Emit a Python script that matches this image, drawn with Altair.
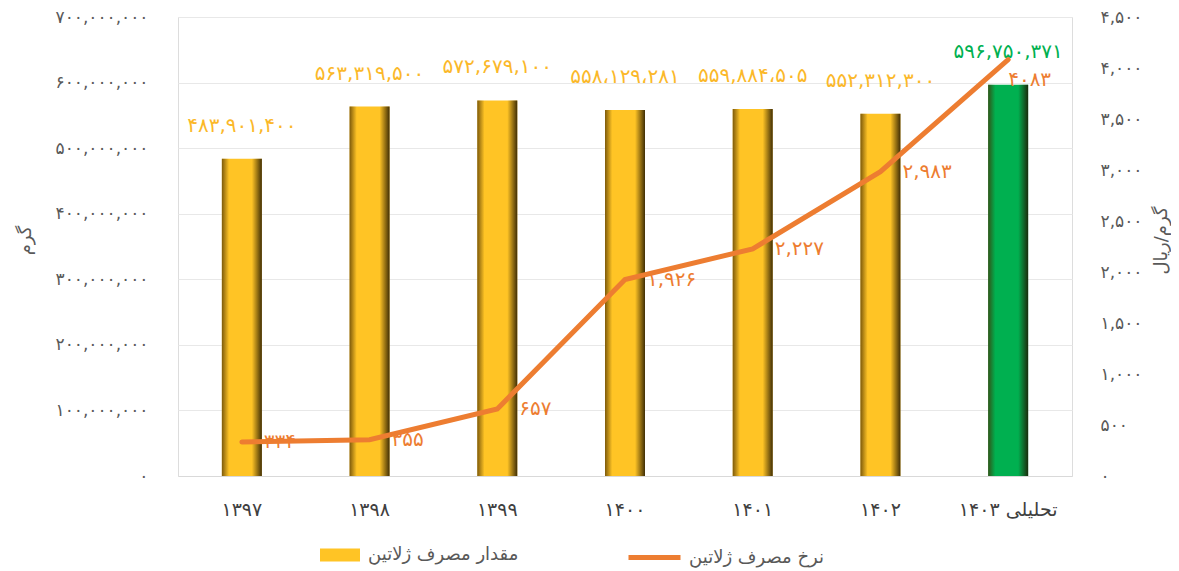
import altair as alt
import pandas as pd

years = ["۱۳۹۷", "۱۳۹۸", "۱۳۹۹", "۱۴۰۰", "۱۴۰۱", "۱۴۰۲", "تحلیلی ۱۴۰۳"]
amounts = [483901400, 563319500, 572679100, 558129281, 559884505, 552312300, 596750371]
amount_labels = ["۴۸۳,۹۰۱,۴۰۰", "۵۶۳,۳۱۹,۵۰۰", "۵۷۲,۶۷۹,۱۰۰", "۵۵۸،۱۲۹،۲۸۱",
                 "۵۵۹,۸۸۴،۵۰۵", "۵۵۲,۳۱۲,۳۰۰", "۵۹۶,۷۵۰,۳۷۱"]
kinds = ["actual", "actual", "actual", "actual", "actual", "actual", "forecast"]
rates = [334, 355, 657, 1926, 2227, 2983, 4083]
rate_labels = ["۳۳۴", "۳۵۵", "۶۵۷", "۱,۹۲۶", "۲,۲۲۷", "۲,۹۸۳", "۴۰۸۳"]

bar_name = "مقدار مصرف ژلاتین"
line_name = "نرخ مصرف ژلاتین"

df = pd.DataFrame({
    "year": years, "amount": amounts, "amount_label": amount_labels,
    "kind": kinds, "rate": rates, "rate_label": rate_labels,
    "bar_series": [bar_name] * 7, "line_series": [line_name] * 7,
})

FONT = "DejaVu Sans"
GOLD = "#FFC425"
GREEN = "#00B050"
ORANGE = "#ED7D31"
GRAY = "#595959"


def fa_digits(expr):
    for i, d in enumerate("۰۱۲۳۴۵۶۷۸۹"):
        expr = f"replace({expr}, regexp('{i}', 'g'), '{d}')"
    return expr


x_enc = alt.X("year:N", sort=years, title=None,
              scale=alt.Scale(paddingInner=0, paddingOuter=0),
              axis=alt.Axis(labelAngle=0, labelFontSize=19, labelColor="#404040",
                            labelPadding=24, ticks=False, domain=True, domainColor="#d9d9d9",
                            grid=False, labelFont=FONT))

y_left = alt.Y("amount:Q", title="گرم",
               scale=alt.Scale(domain=[0, 700000000]),
               axis=alt.Axis(values=list(range(0, 700000001, 100000000)), format=",d",
                             labelExpr=fa_digits("datum.label"), labelFontSize=17,
                             labelColor=GRAY, labelPadding=30, ticks=False, domain=False,
                             gridColor="#e8e8e8", titleFontSize=18, titleColor=GRAY,
                             titleFontWeight="normal", titleX=-144, titleY=223,
                             titleAngle=270, labelFont=FONT, titleFont=FONT))

base = alt.Chart(df)

bars = base.mark_bar(size=40).encode(
    x=x_enc,
    y=y_left,
    fill=alt.condition(
        "datum.kind == 'forecast'", alt.value(GREEN),
        alt.Fill("bar_series:N",
                 scale=alt.Scale(domain=[bar_name], range=[GOLD]),
                 legend=alt.Legend(title=None, orient="none", legendX=142, legendY=518,
                                   symbolType="M-1,-0.33H1V0.33H-1Z", symbolSize=1600,
                                   symbolStrokeWidth=0, labelFontSize=18, labelColor=GRAY,
                                   labelFont=FONT, labelOffset=8))),
)

shade = base.mark_bar(size=40, fill=alt.LinearGradient(
    gradient="linear", x1=0, x2=1, y1=0, y2=0,
    stops=[alt.GradientStop(color="rgba(70,45,0,0.7)", offset=0),
           alt.GradientStop(color="rgba(70,45,0,0)", offset=0.18),
           alt.GradientStop(color="rgba(40,25,0,0)", offset=0.75),
           alt.GradientStop(color="rgba(30,20,0,0.85)", offset=1)])).encode(
    x=alt.X("year:N", sort=years), y=alt.Y("amount:Q"))

bar_text = base.mark_text(dy=-33, fontSize=20, font=FONT, baseline="middle").encode(
    x=alt.X("year:N", sort=years), y=alt.Y("amount:Q"),
    text="amount_label:N",
    color=alt.condition("datum.kind == 'forecast'", alt.value(GREEN), alt.value("#FBB829")),
)

bar_layer = alt.layer(bars, shade, bar_text)

y_right = alt.Y("rate:Q", title="گرم/ریال",
                scale=alt.Scale(domain=[0, 4500]),
                axis=alt.Axis(orient="right", values=list(range(0, 4501, 500)), format=",d",
                              labelExpr=fa_digits("datum.label"), labelFontSize=17,
                              labelColor=GRAY, labelPadding=28, ticks=False, domain=False,
                              grid=False, titleFontSize=18, titleColor=GRAY,
                              titleFontWeight="normal", titleAngle=270, titleX=98, titleY=223,
                              labelFont=FONT, titleFont=FONT))

line_text = base.transform_filter("datum.kind != 'forecast'").mark_text(
    dx=22, align="left", baseline="middle", fontSize=20, font=FONT, color=ORANGE).encode(
    x=alt.X("year:N", sort=years), y=alt.Y("rate:Q"), text="rate_label:N")

line_text_last = base.transform_filter("datum.kind == 'forecast'").mark_text(
    dx=0, dy=20, align="left", baseline="middle", fontSize=20, font=FONT, color=ORANGE).encode(
    x=alt.X("year:N", sort=years), y=alt.Y("rate:Q"), text="rate_label:N")

line = base.mark_line(strokeWidth=5, strokeCap="round").encode(
    x=alt.X("year:N", sort=years),
    y=y_right,
    stroke=alt.Stroke("line_series:N",
                      scale=alt.Scale(domain=[line_name], range=[ORANGE]),
                      legend=alt.Legend(title=None, orient="none", legendX=448, legendY=512,
                                        symbolType="stroke", symbolSize=2704,
                                        symbolStrokeWidth=5, labelFontSize=18,
                                        labelColor=GRAY, labelFont=FONT, labelOffset=6)),
)

line_layer = alt.layer(line_text, line_text_last, line)

chart = alt.layer(bar_layer, line_layer).resolve_scale(
    y="independent", fill="independent", stroke="independent", color="independent"
).properties(
    width=894, height=459,
    autosize=alt.AutoSizeParams(type="none"),
    padding={"left": 170, "top": 9, "right": 99, "bottom": 95},
).configure_view(strokeWidth=0, stroke="transparent").configure_axis(
    domain=False, ticks=False).configure_axisX(grid=False).configure(font=FONT)

chart.save("out.html", embed_options={"renderer": "svg", "actions": False})
